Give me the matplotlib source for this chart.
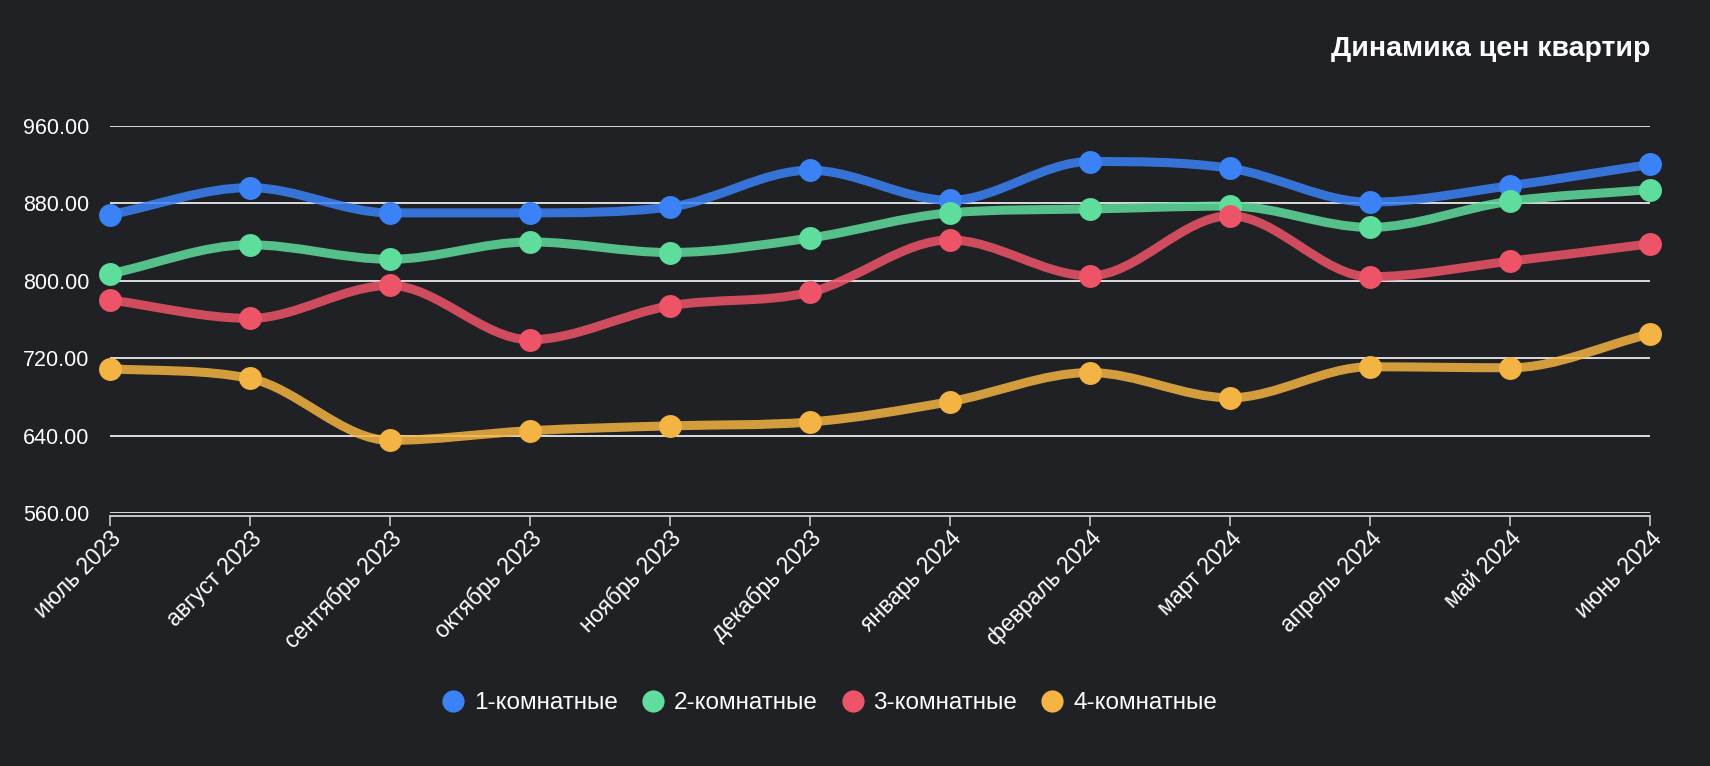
import numpy as np
import matplotlib
matplotlib.use("Agg")
from matplotlib import pyplot as plt
from matplotlib.path import Path
from matplotlib.patches import PathPatch
from matplotlib.lines import Line2D

# Данные
mesyacy = ["июль 2023", "август 2023", "сентябрь 2023", "октябрь 2023",
           "ноябрь 2023", "декабрь 2023", "январь 2024", "февраль 2024",
           "март 2024", "апрель 2024", "май 2024", "июнь 2024"]
k1 = [868, 896, 870, 870, 876, 914, 883, 923, 916, 881, 898, 920]
k2 = [807, 837, 822, 840, 829, 844, 870, 874, 877, 855, 882, 894]
k3 = [780, 761, 795, 739, 774, 788, 842, 805, 867, 804, 820, 838]
k4 = [709, 699, 635, 645, 650, 654, 675, 705, 679, 711, 710, 745]
nazvaniya = ["1-комнатные", "2-комнатные", "3-комнатные", "4-комнатные"]
y_ticks = [560, 640, 720, 800, 880, 960]

cveta = ["#3b82f6", "#5fdd9d", "#ee5468", "#f4b443"]
fon = "#202124"

plt.rcParams['font.family'] = ['Liberation Sans', 'DejaVu Sans']


# монотонная кривая Безье (как в Chart.js)
def monotone_path(x, y):
    x = np.asarray(x, float)
    y = np.asarray(y, float)
    n = len(x)
    d = np.diff(y) / np.diff(x)
    m = np.zeros(n)
    m[0] = d[0]
    m[-1] = d[-1]
    for k in range(1, n - 1):
        if d[k - 1] * d[k] <= 0:
            m[k] = 0
        else:
            m[k] = (d[k - 1] + d[k]) / 2
    for k in range(n - 1):
        if d[k] == 0:
            m[k] = 0
            m[k + 1] = 0
            continue
        a = m[k] / d[k]
        b = m[k + 1] / d[k]
        s = a * a + b * b
        if s > 9:
            t = 3 / np.sqrt(s)
            m[k] = a * t * d[k]
            m[k + 1] = b * t * d[k]
    verts = [(x[0], y[0])]
    codes = [Path.MOVETO]
    for i in range(n - 1):
        dx = (x[i + 1] - x[i]) / 3
        verts += [(x[i] + dx, y[i] + m[i] * dx),
                  (x[i + 1] - dx, y[i + 1] - m[i + 1] * dx),
                  (x[i + 1], y[i + 1])]
        codes += [Path.CURVE4] * 3
    return Path(verts, codes)


fig = plt.figure(figsize=(17.1, 7.66), dpi=100, facecolor=fon)
ax = fig.add_axes([110 / 1710, 1 - 513 / 766, 1540 / 1710, (513 - 125.7) / 766])
ax.set_facecolor(fon)

xs = np.arange(len(mesyacy))
for i, ser in enumerate([k1, k2, k3, k4]):
    p = PathPatch(monotone_path(xs, ser), facecolor='none', edgecolor=cveta[i],
                  lw=6.5, alpha=0.85, capstyle='round', joinstyle='round',
                  zorder=3 + 2 * i)
    ax.add_patch(p)
    ax.plot(xs, ser, 'o', color=cveta[i], markersize=16.5, markeredgewidth=0,
            clip_on=False, zorder=4 + 2 * i)

ax.set_xlim(0, len(mesyacy) - 1)
ax.set_ylim(560, 960)
ax.set_yticks(y_ticks)
ax.set_yticklabels(["%.2f" % v for v in y_ticks])
ax.set_xticks(xs)
ax.set_xticklabels(mesyacy)

ax.grid(axis='y', color='#dcdcdc', lw=1.4, zorder=1)
ax.grid(axis='x', visible=False)
for s in ['top', 'right', 'left']:
    ax.spines[s].set_visible(False)
ax.spines['bottom'].set_color('#c8c8c8')
ax.spines['bottom'].set_linewidth(1.4)
ax.spines['bottom'].set_position(('outward', 2))

ax.tick_params(axis='y', length=0, pad=15, labelsize=15.5, labelcolor='white')
ax.tick_params(axis='x', length=7, width=1.2, color='#c8c8c8', pad=1,
               labelsize=16.5, labelcolor='white')
plt.setp(ax.get_xticklabels(), rotation=45, ha='right', rotation_mode='anchor')

fig.text(1650 / 1710, 1 - 56 / 766, "Динамика цен квартир", ha='right',
         va='baseline', fontsize=20.5, fontweight='bold', color='white')

ruchki = [Line2D([], [], marker='o', ls='none', color=c, markersize=16,
                 markeredgewidth=0) for c in cveta]
fig.legend(ruchki, nazvaniya, loc='center', bbox_to_anchor=(829 / 1710, 1 - 703 / 766),
           ncol=4, frameon=False, fontsize=17.5, labelcolor='white',
           handlelength=1.0, handletextpad=0.35, columnspacing=0.95)

fig.savefig("out.png", dpi=100, facecolor=fon)
